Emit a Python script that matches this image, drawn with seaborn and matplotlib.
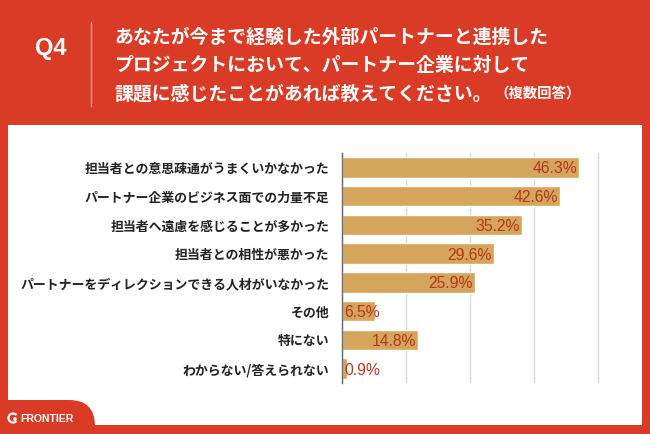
import matplotlib
matplotlib.use("Agg")
import matplotlib.pyplot as plt
import matplotlib.patches as mpatches
from matplotlib.transforms import IdentityTransform
import seaborn as sns

# --- DATA ---
categories = [
    "担当者との意思疎通がうまくいかなかった",
    "パートナー企業のビジネス面での力量不足",
    "担当者へ遠慮を感じることが多かった",
    "担当者との相性が悪かった",
    "パートナーをディレクションできる人材がいなかった",
    "その他",
    "特にない",
    "わからない/答えられない",
]
values = [46.3, 42.6, 35.2, 29.6, 25.9, 6.5, 14.8, 0.9]
title_lines = [
    "あなたが今まで経験した外部パートナーと連携した",
    "プロジェクトにおいて、パートナー企業に対して",
    "課題に感じたことがあれば教えてください。",
]
title_note = "（複数回答）"
q_label = "Q4"
logo_text = "FRONTIER"

# --- STYLE ---
RED = "#DA3B26"
BAR = "#D5A55B"
VAL = "#B5341F"
JP = ["Noto Sans CJK JP", "DejaVu Sans"]
LAT = ["Liberation Sans", "DejaVu Sans"]
W, H = 650, 434

sns.set_theme(style="white")
plt.rcParams["font.family"] = JP


def fx(x):
    return x / W


def fy(y):
    return 1 - y / H


fig = plt.figure(figsize=(W / 100, H / 100), dpi=100, facecolor=RED)

# white panel
fig.add_artist(mpatches.Rectangle((fx(8), fy(425)), fx(642) - fx(8), fy(125) - fy(425),
                                  transform=fig.transFigure, facecolor="white",
                                  edgecolor="none", zorder=0))

# logo tab, bottom left (pixel coordinates)
tab = mpatches.FancyBboxPatch((-40, -40), 135, 40 + (H - 400),
                              boxstyle="round,pad=0,rounding_size=26",
                              transform=IdentityTransform(), facecolor=RED,
                              edgecolor="none", zorder=1)
fig.add_artist(tab)
fig.add_artist(mpatches.Arc((13, H - 418), 9, 9, theta1=40, theta2=320,
                            transform=IdentityTransform(), color="white", lw=1.6, zorder=2))
fig.add_artist(mpatches.Circle((15, H - 419), 1.1, transform=IdentityTransform(),
                               color="white", zorder=2))
fig.text(fx(20), fy(419), logo_text, color="white",
         fontsize=7.5, fontweight="bold", family=LAT, va="center", ha="left")

# header
fig.text(fx(51), fy(48), q_label, color="white", fontsize=17, fontweight="bold",
         family=LAT, ha="center", va="center")
fig.add_artist(plt.Line2D([fx(90.5), fx(90.5)], [fy(22), fy(106)], transform=fig.transFigure,
                          color="#EE9A8E", lw=1))
for i, line in enumerate(title_lines):
    fig.text(fx(114), fy(37 + 28.5 * i), line, color="white", fontsize=13.6,
             fontweight="bold", ha="left", va="center")
fig.text(fx(494), fy(94), title_note, color="white", fontsize=10.4,
         fontweight="bold", ha="left", va="center")

# chart
x0, x1, y0, y1 = 342, 628, 153, 383
ax = fig.add_axes([fx(x0), fy(y1), fx(x1) - fx(x0), fy(y0) - fy(y1)])
ax.set_facecolor("none")
sns.barplot(x=values, y=categories, orient="h", color=BAR, saturation=1,
            width=0.71, ax=ax)
xmax = (x1 - x0) / 5.12
ax.set_xlim(0, xmax)
ax.set_ylim(len(categories) - 0.5, -0.5)
ax.set_xticks([0, 12.5, 25, 37.5, 50])
ax.set_xticklabels([])
ax.xaxis.grid(True, color="#D9D9D9", lw=1)
ax.set_axisbelow(True)
ax.tick_params(axis="x", length=0)
ax.tick_params(axis="y", length=0, pad=9, labelsize=9.3, labelcolor="#222222")
for lab in ax.get_yticklabels():
    lab.set_fontweight("bold")
for s in ["top", "right", "bottom"]:
    ax.spines[s].set_visible(False)
ax.spines["left"].set_color("#666666")
ax.spines["left"].set_linewidth(1)
ax.set_xlabel("")
ax.set_ylabel("")

for i, v in enumerate(values):
    if v > 10:
        ax.text(v - 0.4, i, f"{v}%", ha="right", va="center_baseline", color=VAL,
                fontsize=11.3, family=LAT)
    else:
        ax.text(0.5, i, f"{v}%", ha="left", va="center_baseline", color=VAL,
                fontsize=11.3, family=LAT)

fig.savefig("out.png", dpi=100, facecolor=RED)
